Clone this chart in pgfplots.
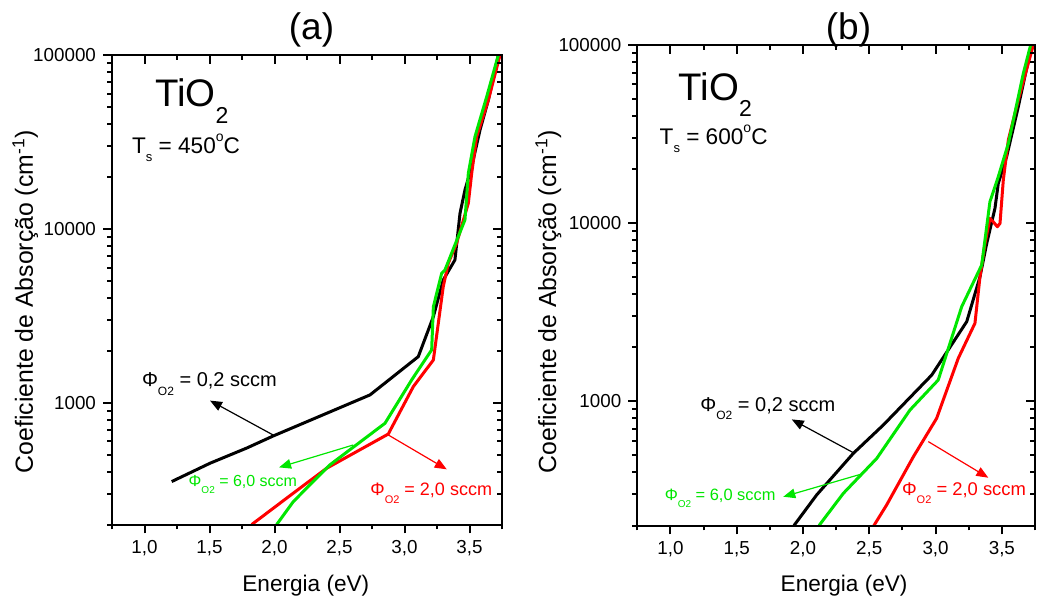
\documentclass[border=0pt]{standalone}
\usepackage{pgfplots}
\pgfplotsset{compat=1.18}
\usepackage{fontspec}
\setmainfont{Liberation Sans}
\usetikzlibrary{arrows.meta}

\definecolor{phired}{RGB}{255,0,0}
\definecolor{phigreen}{RGB}{0,230,0}

% flux label: #1 main size, #2 subscript size, #3 value text
\newcommand{\flux}[3]{{\fontsize{#1}{#1}\selectfont Φ\raisebox{-0.42em}{\fontsize{#2}{#2}\selectfont O2} = #3}}
\newcommand{\tio}{{\fontsize{19.2}{20}\selectfont TiO\raisebox{-0.43em}{\fontsize{11.5}{12}\selectfont 2}}}
\newcommand{\tsub}[1]{{\fontsize{11.3}{12}\selectfont T\raisebox{-0.37em}{\fontsize{6.5}{7}\selectfont s} = #1\raisebox{0.52em}{\fontsize{7}{8}\selectfont o}C}}

\tikzset{
  abscurve/.style={line width=1.5pt, line join=round},
  absarrow/.style={line width=0.6pt, -{Triangle[length=6pt,width=4.8pt]}},
}
\pgfplotsset{every axis title shift=0pt}

\begin{document}
\begin{tikzpicture}
\useasboundingbox (0,0) rectangle (519pt,300.5pt);

% ---------------- (a) Ts = 450 C ----------------
\begin{axis}[
  at={(56pt,38.25pt)}, anchor=south west,
  scale only axis, width=195pt, height=234.75pt,
  ymode=log, xmin=0.75, xmax=3.75, ymin=200, ymax=100000,
  axis line style={line width=1pt},
  major tick length=4.5pt, minor tick length=2.5pt,
  tick style={black, line width=1pt},
  tick align=outside, xtick pos=left, ytick pos=left,
  xtick={1,1.5,2,2.5,3,3.5},
  minor xtick={0.75,1.25,1.75,2.25,2.75,3.25,3.75},
  ytick={1000,10000,100000},
  minor ytick={200,300,400,500,600,700,800,900,2000,3000,4000,5000,6000,7000,8000,9000,20000,30000,40000,50000,60000,70000,80000,90000},
  xticklabels={{1,0},{1,5},{2,0},{2,5},{3,0},{3,5}},
  yticklabels={1000,10000,100000},
  ticklabel style={font=\fontsize{9.4}{11}\selectfont},
  title={(a)},
  title style={font=\fontsize{18.5}{20}\selectfont, anchor=center, at={(axis description cs:0.5115,1.053)}},
  xlabel={Energia (eV)},
  xlabel style={font=\fontsize{11.3}{13}\selectfont, anchor=base, at={(axis description cs:0.497,-0.143)}},
  ylabel={Coeficiente de Absorção (cm\textsuperscript{-1})},
  ylabel style={font=\fontsize{12.4}{14}\selectfont, anchor=base, at={(axis description cs:-0.2026,0.475)}},
]
\addplot[abscurve, black] coordinates {
  (1.209,353) (1.504,450) (1.786,550) (1.991,646) (2.735,1112)
  (3.106,1845) (3.222,3133) (3.298,5090) (3.388,6640) (3.427,12300)
  (3.465,16750) (3.517,22800) (3.581,37100) (3.645,55100) (3.722,100000)
};
\addplot[abscurve, phired] coordinates {
  (1.825,200) (2.145,303) (2.401,421) (2.875,662) (3.068,1241)
  (3.222,1766) (3.298,4660) (3.337,6350) (3.401,8280) (3.491,14070)
  (3.517,20900) (3.555,33900) (3.645,55100) (3.735,100000)
};
\addplot[abscurve, phigreen] coordinates {
  (2.017,200) (2.145,271) (2.427,441) (2.850,764) (3.055,1355)
  (3.209,2019) (3.222,3570) (3.286,5560) (3.311,5810) (3.465,11280)
  (3.491,20900) (3.542,33900) (3.632,57500) (3.722,100000)
};
\node[anchor=base west, inner sep=0pt] at (rel axis cs:0.110,0.890) {\tio};
\node[anchor=base west, inner sep=0pt] at (rel axis cs:0.0505,0.7906) {\tsub{450}};
\node[anchor=base west, inner sep=0pt] at (axis cs:0.978,1239) {\flux{10}{6}{0,2 sccm}};
\draw[absarrow, black] (axis cs:1.991,653) -- (axis cs:1.504,1031);
\node[anchor=base west, inner sep=0pt, text=phigreen] at (axis cs:1.337,330) {\flux{8}{5}{6,0 sccm}};
\draw[absarrow, phigreen] (axis cs:2.606,573) -- (axis cs:2.035,426);
\node[anchor=base west, inner sep=0pt, text=phired] at (axis cs:2.735,292) {\flux{9}{5.5}{2,0 sccm}};
\draw[absarrow, phired] (axis cs:2.868,659) -- (axis cs:3.325,415);
\end{axis}
% top and right ticks pointing inwards
\begin{axis}[
  at={(56pt,38.25pt)}, anchor=south west,
  scale only axis, width=195pt, height=234.75pt,
  ymode=log, xmin=0.75, xmax=3.75, ymin=200, ymax=100000,
  axis line style={line width=1pt},
  major tick length=4.5pt, minor tick length=2.5pt,
  tick style={black, line width=1pt},
  tick align=inside, xtick pos=right, ytick pos=right,
  xtick={1,1.5,2,2.5,3,3.5},
  minor xtick={0.75,1.25,1.75,2.25,2.75,3.25,3.75},
  ytick={1000,10000,100000},
  minor ytick={200,300,400,500,600,700,800,900,2000,3000,4000,5000,6000,7000,8000,9000,20000,30000,40000,50000,60000,70000,80000,90000},
  xticklabels={}, yticklabels={},
]
\end{axis}

% ---------------- (b) Ts = 600 C ----------------
\begin{axis}[
  at={(318.65pt,37.75pt)}, anchor=south west,
  scale only axis, width=198.85pt, height=240.25pt,
  ymode=log, xmin=0.75, xmax=3.75, ymin=200, ymax=100000,
  axis line style={line width=1pt},
  major tick length=4.5pt, minor tick length=2.5pt,
  tick style={black, line width=1pt},
  tick align=outside, xtick pos=left, ytick pos=left,
  xtick={1,1.5,2,2.5,3,3.5},
  minor xtick={0.75,1.25,1.75,2.25,2.75,3.25,3.75},
  ytick={1000,10000,100000},
  minor ytick={200,300,400,500,600,700,800,900,2000,3000,4000,5000,6000,7000,8000,9000,20000,30000,40000,50000,60000,70000,80000,90000},
  xticklabels={{1,0},{1,5},{2,0},{2,5},{3,0},{3,5}},
  yticklabels={1000,10000,100000},
  ticklabel style={font=\fontsize{9.4}{11}\selectfont},
  title={(b)},
  title style={font=\fontsize{18.5}{20}\selectfont, anchor=center, at={(axis description cs:0.531,1.031)}},
  xlabel={Energia (eV)},
  xlabel style={font=\fontsize{11.3}{13}\selectfont, anchor=base, at={(axis description cs:0.52,-0.138)}},
  ylabel={Coeficiente de Absorção (cm\textsuperscript{-1})},
  ylabel style={font=\fontsize{12.4}{14}\selectfont, anchor=base, at={(axis description cs:-0.2044,0.466)}},
]
\addplot[abscurve, black] coordinates {
  (1.932,200) (2.103,297) (2.379,508) (2.606,734) (2.971,1400)
  (3.235,2794) (3.335,4990) (3.386,7690) (3.448,12100) (3.473,16700)
  (3.536,23600) (3.624,45000) (3.725,100000)
};
\addplot[abscurve, phired] coordinates {
  (2.535,200) (2.631,261) (2.832,486) (3.008,800) (3.171,1738)
  (3.297,2736) (3.335,4990) (3.373,7690) (3.410,10620) (3.435,10160)
  (3.466,9530) (3.486,9960) (3.511,17500) (3.549,29300) (3.624,49100)
  (3.737,100000)
};
\addplot[abscurve, phigreen] coordinates {
  (2.121,200) (2.304,303) (2.556,476) (2.807,891) (3.020,1313)
  (3.197,3390) (3.348,5810) (3.410,13180) (3.473,18200) (3.549,28000)
  (3.662,69300) (3.717,100000)
};
\node[anchor=base west, inner sep=0pt] at (rel axis cs:0.103,0.8855) {\tio};
\node[anchor=base west, inner sep=0pt] at (rel axis cs:0.0553,0.7933) {\tsub{600}};
\node[anchor=base west, inner sep=0pt] at (axis cs:1.223,879) {\flux{10}{6}{0,2 sccm}};
\draw[absarrow, black] (axis cs:2.379,513) -- (axis cs:1.915,789);
\node[anchor=base west, inner sep=0pt, text=phigreen] at (axis cs:0.954,275) {\flux{8.2}{5}{6,0 sccm}};
\draw[absarrow, phigreen] (axis cs:2.435,388) -- (axis cs:1.851,290);
\node[anchor=base west, inner sep=0pt, text=phired] at (axis cs:2.744,293) {\flux{9.2}{5.5}{2,0 sccm}};
\draw[absarrow, phired] (axis cs:2.945,592) -- (axis cs:3.398,371);
\end{axis}
% top and right ticks pointing inwards
\begin{axis}[
  at={(318.65pt,37.75pt)}, anchor=south west,
  scale only axis, width=198.85pt, height=240.25pt,
  ymode=log, xmin=0.75, xmax=3.75, ymin=200, ymax=100000,
  axis line style={line width=1pt},
  major tick length=4.5pt, minor tick length=2.5pt,
  tick style={black, line width=1pt},
  tick align=inside, xtick pos=right, ytick pos=right,
  xtick={1,1.5,2,2.5,3,3.5},
  minor xtick={0.75,1.25,1.75,2.25,2.75,3.25,3.75},
  ytick={1000,10000,100000},
  minor ytick={200,300,400,500,600,700,800,900,2000,3000,4000,5000,6000,7000,8000,9000,20000,30000,40000,50000,60000,70000,80000,90000},
  xticklabels={}, yticklabels={},
]
\end{axis}
\end{tikzpicture}
\end{document}
